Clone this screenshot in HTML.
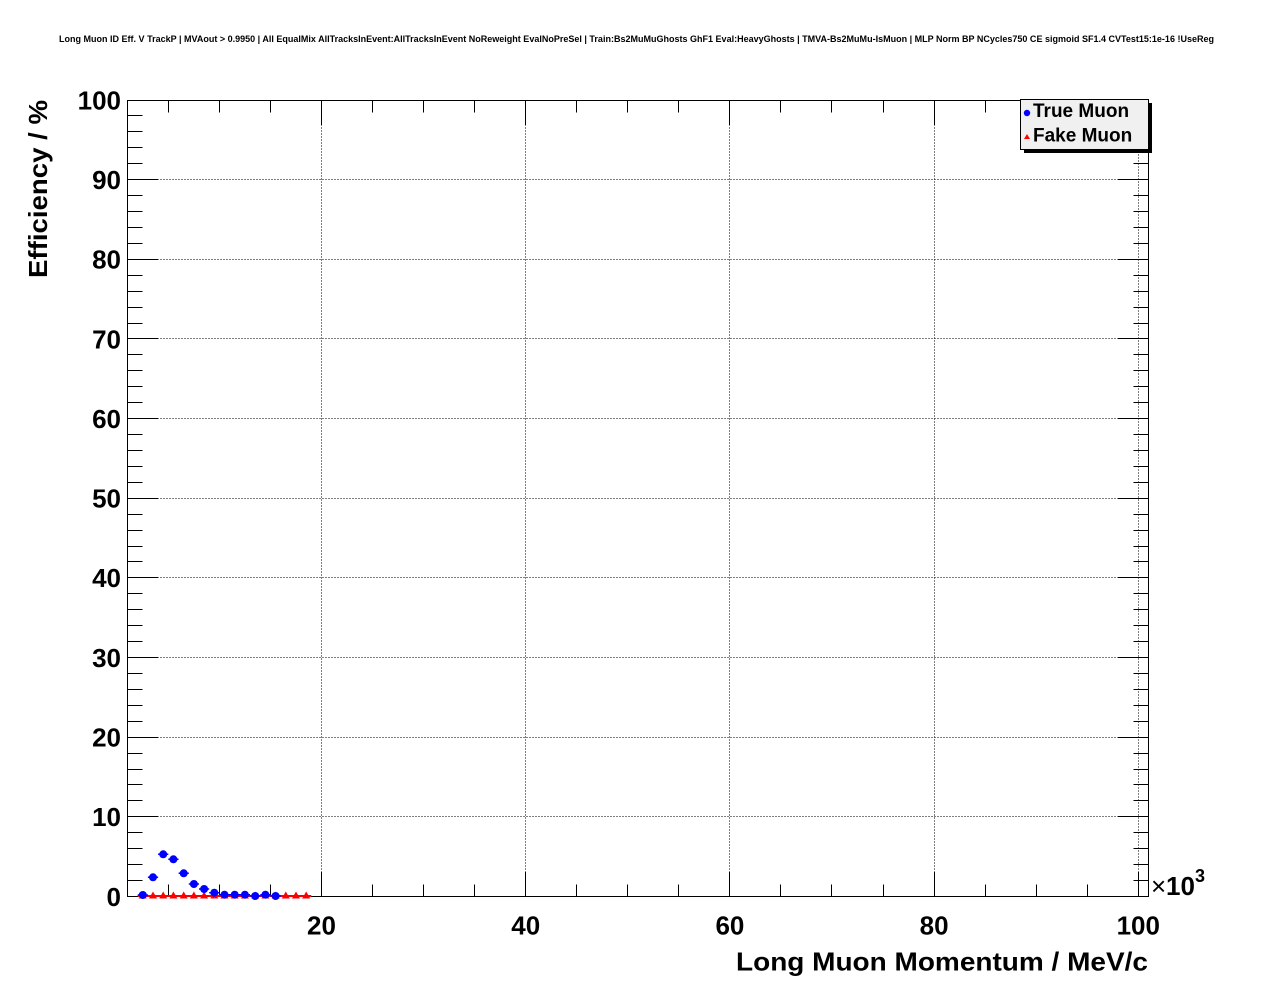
<!DOCTYPE html>
<html>
<head>
<meta charset="utf-8">
<style>
html,body{margin:0;padding:0;background:#fff;}
svg{display:block;}
text{font-family:"Liberation Sans",Arial,sans-serif;}
</style>
</head>
<body>
<svg width="1276" height="996" viewBox="0 0 1276 996" xmlns="http://www.w3.org/2000/svg">
<rect x="0" y="0" width="1276" height="996" fill="#ffffff"/>

<!-- Title -->
<text x="59" y="42" font-size="9.5" font-weight="bold" textLength="1155" lengthAdjust="spacingAndGlyphs">Long Muon ID Eff. V TrackP | MVAout &gt; 0.9950 | All EqualMix AllTracksInEvent:AllTracksInEvent NoReweight EvalNoPreSel | Train:Bs2MuMuGhosts GhF1 Eval:HeavyGhosts | TMVA-Bs2MuMu-IsMuon | MLP Norm BP NCycles750 CE sigmoid SF1.4 CVTest15:1e-16 !UseReg</text>

<!-- Grid -->
<g stroke="#000" stroke-width="1" stroke-dasharray="1,2" fill="none" shape-rendering="crispEdges">
<path d="M321.5,100.5V896.5M525.5,100.5V896.5M729.5,100.5V896.5M934.5,100.5V896.5M1138.5,100.5V896.5"/>
<path d="M127.5,816.5H1148.5M127.5,737.5H1148.5M127.5,657.5H1148.5M127.5,577.5H1148.5M127.5,498.5H1148.5M127.5,418.5H1148.5M127.5,338.5H1148.5M127.5,259.5H1148.5M127.5,179.5H1148.5"/>
</g>

<!-- Frame -->
<rect x="127.5" y="100.5" width="1021" height="796" fill="none" stroke="#000" stroke-width="1" shape-rendering="crispEdges"/>

<!-- Ticks -->
<g stroke="#000" stroke-width="1" fill="none" shape-rendering="crispEdges">
<!-- left y ticks -->
<path d="M127.5,896.5h31M127.5,880.5h15M127.5,864.5h15M127.5,848.5h15M127.5,832.5h15M127.5,816.5h31M127.5,800.5h15M127.5,784.5h15M127.5,769.5h15M127.5,753.5h15M127.5,737.5h31M127.5,721.5h15M127.5,705.5h15M127.5,689.5h15M127.5,673.5h15M127.5,657.5h31M127.5,641.5h15M127.5,625.5h15M127.5,609.5h15M127.5,593.5h15M127.5,577.5h31M127.5,561.5h15M127.5,546.5h15M127.5,530.5h15M127.5,514.5h15M127.5,498.5h31M127.5,482.5h15M127.5,466.5h15M127.5,450.5h15M127.5,434.5h15M127.5,418.5h31M127.5,402.5h15M127.5,386.5h15M127.5,370.5h15M127.5,354.5h15M127.5,338.5h31M127.5,323.5h15M127.5,307.5h15M127.5,291.5h15M127.5,275.5h15M127.5,259.5h31M127.5,243.5h15M127.5,227.5h15M127.5,211.5h15M127.5,195.5h15M127.5,179.5h31M127.5,163.5h15M127.5,147.5h15M127.5,131.5h15M127.5,115.5h15M127.5,100.5h31"/>
<!-- right y ticks -->
<path d="M1148.5,896.5h-31M1148.5,880.5h-15M1148.5,864.5h-15M1148.5,848.5h-15M1148.5,832.5h-15M1148.5,816.5h-31M1148.5,800.5h-15M1148.5,784.5h-15M1148.5,769.5h-15M1148.5,753.5h-15M1148.5,737.5h-31M1148.5,721.5h-15M1148.5,705.5h-15M1148.5,689.5h-15M1148.5,673.5h-15M1148.5,657.5h-31M1148.5,641.5h-15M1148.5,625.5h-15M1148.5,609.5h-15M1148.5,593.5h-15M1148.5,577.5h-31M1148.5,561.5h-15M1148.5,546.5h-15M1148.5,530.5h-15M1148.5,514.5h-15M1148.5,498.5h-31M1148.5,482.5h-15M1148.5,466.5h-15M1148.5,450.5h-15M1148.5,434.5h-15M1148.5,418.5h-31M1148.5,402.5h-15M1148.5,386.5h-15M1148.5,370.5h-15M1148.5,354.5h-15M1148.5,338.5h-31M1148.5,323.5h-15M1148.5,307.5h-15M1148.5,291.5h-15M1148.5,275.5h-15M1148.5,259.5h-31M1148.5,243.5h-15M1148.5,227.5h-15M1148.5,211.5h-15M1148.5,195.5h-15M1148.5,179.5h-31M1148.5,163.5h-15M1148.5,147.5h-15M1148.5,131.5h-15M1148.5,115.5h-15M1148.5,100.5h-31"/>
<!-- bottom x ticks -->
<path d="M168.5,896.5v-12M219.5,896.5v-12M270.5,896.5v-12M321.5,896.5v-24M372.5,896.5v-12M423.5,896.5v-12M474.5,896.5v-12M525.5,896.5v-24M576.5,896.5v-12M627.5,896.5v-12M678.5,896.5v-12M729.5,896.5v-24M780.5,896.5v-12M831.5,896.5v-12M883.5,896.5v-12M934.5,896.5v-24M985.5,896.5v-12M1036.5,896.5v-12M1087.5,896.5v-12M1138.5,896.5v-24"/>
<!-- top x ticks -->
<path d="M168.5,100.5v12M219.5,100.5v12M270.5,100.5v12M321.5,100.5v24M372.5,100.5v12M423.5,100.5v12M474.5,100.5v12M525.5,100.5v24M576.5,100.5v12M627.5,100.5v12M678.5,100.5v12M729.5,100.5v24M780.5,100.5v12M831.5,100.5v12M883.5,100.5v12M934.5,100.5v24M985.5,100.5v12M1036.5,100.5v12M1087.5,100.5v12M1138.5,100.5v24"/>
</g>

<!-- Y labels -->
<g font-size="26" font-weight="bold" text-anchor="end" fill="#000">
<text x="121" y="109.3">100</text>
<text x="121" y="189">90</text>
<text x="121" y="268.6">80</text>
<text x="121" y="348.3">70</text>
<text x="121" y="427.9">60</text>
<text x="121" y="507.6">50</text>
<text x="121" y="587.2">40</text>
<text x="121" y="666.9">30</text>
<text x="121" y="746.5">20</text>
<text x="121" y="826.2">10</text>
<text x="121" y="905.8">0</text>
</g>

<!-- X labels -->
<g font-size="26" font-weight="bold" text-anchor="middle" fill="#000">
<text x="321.5" y="934.5">20</text>
<text x="525.7" y="934.5">40</text>
<text x="729.9" y="934.5">60</text>
<text x="934.1" y="934.5">80</text>
<text x="1138.3" y="934.5">100</text>
</g>

<!-- x10^3 -->
<text x="1151" y="895" font-size="26" fill="#000">×</text>
<text x="1166" y="895" font-size="26" font-weight="bold" fill="#000">10</text>
<text x="1195" y="882" font-size="18" font-weight="bold" fill="#000">3</text>

<!-- Axis titles -->
<text x="1148" y="970.5" font-size="26" font-weight="bold" text-anchor="end" textLength="412" lengthAdjust="spacingAndGlyphs">Long Muon Momentum / MeV/c</text>
<text transform="translate(47,100) rotate(-90)" x="0" y="0" font-size="26" font-weight="bold" text-anchor="end" textLength="178" lengthAdjust="spacingAndGlyphs">Efficiency / %</text>

<!-- Fake Muon (red) -->
<line x1="137.7" y1="896" x2="311.3" y2="896" stroke="#ff0000" stroke-width="2"/>
<g fill="#ff0000">
<polygon points="138.8,898.5 146.8,898.5 142.8,891.5"/>
<polygon points="149,898.5 157,898.5 153,891.5"/>
<polygon points="159.2,898.5 167.2,898.5 163.2,891.5"/>
<polygon points="169.4,898.5 177.4,898.5 173.4,891.5"/>
<polygon points="179.7,898.5 187.7,898.5 183.7,891.5"/>
<polygon points="189.9,898.5 197.9,898.5 193.9,891.5"/>
<polygon points="200.1,898.5 208.1,898.5 204.1,891.5"/>
<polygon points="210.3,898.5 218.3,898.5 214.3,891.5"/>
<polygon points="220.5,898.5 228.5,898.5 224.5,891.5"/>
<polygon points="230.7,898.5 238.7,898.5 234.7,891.5"/>
<polygon points="240.9,898.5 248.9,898.5 244.9,891.5"/>
<polygon points="251.2,898.5 259.2,898.5 255.2,891.5"/>
<polygon points="261.4,898.5 269.4,898.5 265.4,891.5"/>
<polygon points="271.6,898.5 279.6,898.5 275.6,891.5"/>
<polygon points="281.8,898.5 289.8,898.5 285.8,891.5"/>
<polygon points="292,898.5 300,898.5 296,891.5"/>
<polygon points="302.2,898.5 310.2,898.5 306.2,891.5"/>
</g>

<!-- True Muon (blue) -->
<g stroke="#0000ff" stroke-width="1.5">
<path d="M137.7,895h10.2M147.9,877.3h10.2M158.1,854.3h10.2M168.3,859.3h10.2M178.6,873.3h10.2M188.8,884h10.2M199,889h10.2M209.2,892.7h10.2M219.4,894.7h10.2M229.6,894.7h10.2M239.8,894.7h10.2M250.1,896h10.2M260.3,894.7h10.2M270.5,896h10.2"/>
<path d="M163.2,852v4.6M173.4,857v4.6M183.7,871v4.6"/>
</g>
<g fill="#0000ff">
<circle cx="142.8" cy="895" r="4"/>
<circle cx="153" cy="877.3" r="4"/>
<circle cx="163.2" cy="854.3" r="4"/>
<circle cx="173.4" cy="859.3" r="4"/>
<circle cx="183.7" cy="873.3" r="4"/>
<circle cx="193.9" cy="884" r="4"/>
<circle cx="204.1" cy="889" r="4"/>
<circle cx="214.3" cy="892.7" r="4"/>
<circle cx="224.5" cy="894.7" r="4"/>
<circle cx="234.7" cy="894.7" r="4"/>
<circle cx="244.9" cy="894.7" r="4"/>
<circle cx="255.2" cy="896" r="4"/>
<circle cx="265.4" cy="894.7" r="4"/>
<circle cx="275.6" cy="896" r="4"/>
</g>

<!-- Legend -->
<rect x="1024" y="103" width="128" height="50" fill="#000"/>
<rect x="1020.5" y="99.5" width="128" height="50" fill="#f0f0f0" stroke="#000" stroke-width="1" shape-rendering="crispEdges"/>
<circle cx="1027" cy="113" r="3.2" fill="#0000ff"/>
<polygon points="1024,139 1030,139 1027,134" fill="#ff0000"/>
<text x="1033" y="117" font-size="19" font-weight="bold" fill="#000">True Muon</text>
<text x="1033" y="141.5" font-size="19" font-weight="bold" fill="#000">Fake Muon</text>
</svg>
</body>
</html>
